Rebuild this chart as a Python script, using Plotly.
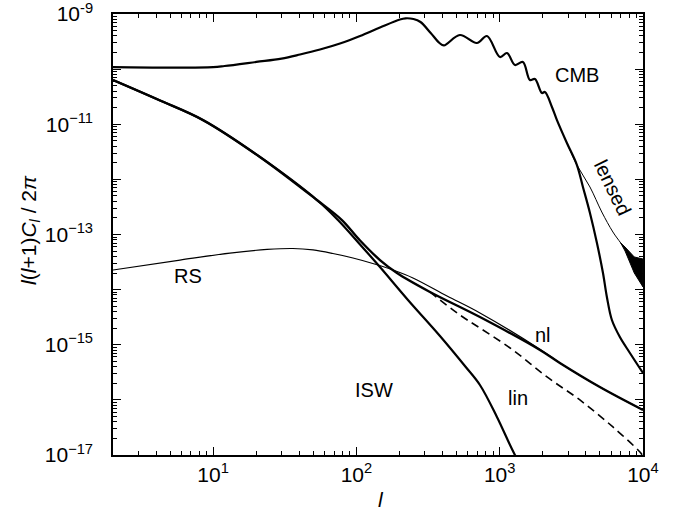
import plotly.graph_objects as go

# ---------------- data ----------------
# unlensed CMB
l_cmb = [2, 5, 10, 12, 20, 30, 40.4, 55.7, 76.8, 106, 146, 201, 220, 250, 280, 330, 380,
         408, 527, 693, 815, 1004, 1125, 1278, 1452, 1626, 1762, 1972, 2069, 2316,
         2510, 2946, 3460, 3810, 4266, 4773, 5260, 5600, 6070, 6900, 8110, 10000]
cl_cmb = [1.09e-10, 1.07e-10, 1.09e-10, 1.14e-10, 1.35e-10, 1.55e-10, 1.84e-10, 2.27e-10,
          2.92e-10, 3.99e-10, 5.69e-10, 7.95e-10, 8.36e-10, 8.11e-10, 7.16e-10, 4.52e-10,
          2.98e-10, 2.69e-10, 4.16e-10, 2.98e-10, 3.99e-10, 1.66e-10, 1.96e-10, 1.19e-10,
          1.35e-10, 6.35e-11, 6.62e-11, 3.69e-11, 3.85e-11, 2.06e-11, 1.19e-11, 4.57e-12,
          1.82e-12, 7.28e-13, 2.46e-13, 7.01e-14, 2.0e-14, 7.35e-15, 2.81e-15, 1.38e-15,
          7.08e-16, 3.07e-16]

# lensed CMB: smooth part and the dense oscillating band at the high-l end
l_lensed = [2946, 3460, 4266, 5160, 6170, 7000, 7500]
cl_lensed = [4.57e-12, 1.82e-12, 7.28e-13, 2.56e-13, 1.11e-13, 7.01e-14, 5.46e-14]
l_lensed_band = [7000, 7500, 8700, 10000, 10000, 8700, 7500, 7000]
cl_lensed_band = [7.01e-14, 5.93e-14, 3.91e-14, 3.60e-14, 1.12e-14, 2.0e-14, 5.02e-14,
                  7.01e-14]

# ISW
l_isw = [2, 4.26, 8.5, 21.2, 53, 74.3, 106, 146, 229, 383, 572, 728, 957, 1278, 1400]
cl_isw = [6.35e-11, 2.70e-11, 1.19e-11, 2.55e-12, 4.23e-13, 1.83e-13, 6.59e-14, 2.57e-14,
          6.49e-15, 1.44e-15, 4.11e-16, 1.86e-16, 4.89e-17, 1.0e-17, 7.0e-18]

# total (thick, "nl")
l_tot = [2, 4.26, 8.5, 21.2, 53, 79.2, 106, 146, 192, 326, 728, 1910, 2630, 5000, 10000]
cl_tot = [6.35e-11, 2.70e-11, 1.19e-11, 2.55e-12, 4.23e-13, 1.83e-13, 7.78e-14, 3.44e-14,
          2.0e-14, 9.06e-15, 3.18e-15, 8.04e-16, 4.67e-16, 1.71e-16, 6.55e-17]

# Rees-Sciama (thin)
l_rs = [2, 5.87, 13.1, 23.8, 36, 49.8, 68.5, 94.6, 130, 180, 248, 429, 728, 1910, 2630,
        5000, 10000]
cl_rs = [2.27e-14, 3.44e-14, 4.61e-14, 5.35e-14, 5.57e-14, 5.24e-14, 4.52e-14, 3.75e-14,
         2.98e-14, 2.27e-14, 1.63e-14, 7.66e-15, 3.77e-15, 8.3e-16, 4.67e-16, 1.71e-16,
         6.55e-17]

# linear (dashed)
l_lin = [326, 527, 728, 1236, 2140, 3630, 6170, 9530, 10000]
cl_lin = [9.06e-15, 3.47e-15, 2.01e-15, 8.04e-16, 2.60e-16, 9.95e-17, 3.22e-17, 1.13e-17,
          9.5e-18]

# tick labels
x_tick_vals = [10, 100, 1000, 10000]
x_tick_text = ["10<sup>1</sup>", "10<sup>2</sup>", "10<sup>3</sup>", "10<sup>4</sup>"]
y_exponents = list(range(-17, -8))

# ---------------- figure ----------------
FONT = "Liberation Sans, Arial, Helvetica, sans-serif"
fig = go.Figure()

def add(x, y, width, dash="solid", shape="spline", fill=None):
    fig.add_trace(go.Scatter(x=x, y=y, mode="lines",
                             line=dict(color="black", width=width, dash=dash,
                                       shape=shape, smoothing=1.0),
                             fill=fill, fillcolor="black",
                             showlegend=False, hoverinfo="skip"))

add(l_rs, cl_rs, 1.2)
add(l_lin, cl_lin, 1.6, dash="8px,5px")
add(l_tot, cl_tot, 2.4)
add(l_isw, cl_isw, 2.2)
add(l_lensed, cl_lensed, 1.0)
add(l_lensed_band, cl_lensed_band, 1.0, shape="linear", fill="toself")
add(l_cmb, cl_cmb, 2.2)

y_vals = [10.0 ** e for e in y_exponents]
y_text = []
for e in y_exponents:
    if e % 2 != 0:
        y_text.append("10<sup>%s</sup>" % ("-9" if e == -9 else "\u2212%d" % (-e)))
    else:
        y_text.append("")

x_minor = [m * 10 ** d for d in range(0, 4) for m in range(2, 10)
           if 2 <= m * 10 ** d <= 10000 and m * 10 ** d not in x_tick_vals]
y_minor = [m * 10.0 ** e for e in range(-17, -9) for m in range(2, 10)]

axis_common = dict(showline=True, linecolor="black", linewidth=1.5, mirror="allticks",
                   ticks="inside", tickcolor="black", tickwidth=1, showgrid=False,
                   zeroline=False, ticklabeloverflow="allow",
                   tickfont=dict(family=FONT, size=21, color="black"))

fig.update_xaxes(type="log", range=[0.30103, 4.0003], tickmode="array",
                 tickvals=x_tick_vals, ticktext=x_tick_text, ticklen=8,
                 minor=dict(tickmode="array", tickvals=x_minor, ticks="inside",
                            ticklen=4, tickcolor="black", showgrid=False),
                 **axis_common)
fig.update_yaxes(type="log", range=[-17.0005, -8.9995], tickmode="array",
                 tickvals=y_vals, ticktext=y_text, ticklen=8,
                 ticklabelstandoff=14,
                 minor=dict(tickmode="array", tickvals=y_minor, ticks="inside",
                            ticklen=4, tickcolor="black", showgrid=False),
                 **axis_common)

lab = dict(showarrow=False, font=dict(family=FONT, size=20, color="black"),
           xref="x", yref="y", xanchor="center", yanchor="middle")
fig.add_annotation(text="CMB", x=3.539, y=-10.107, **lab)
fig.add_annotation(text="lensed", x=3.79, y=-12.157, textangle=64, **lab)
fig.add_annotation(text="RS", x=0.824, y=-13.753, **lab)
fig.add_annotation(text="nl", x=3.302, y=-14.823, **lab)
fig.add_annotation(text="lin", x=3.127, y=-15.966, **lab)
fig.add_annotation(text="ISW", x=2.122, y=-15.821, **lab)

fig.add_annotation(text="<i>l</i>(<i>l</i>+1)<i>C<sub>l</sub></i> / 2<i>\u03c0</i>",
                   xref="paper", yref="paper", x=-0.157, y=0.51, textangle=-90,
                   xanchor="center", yanchor="middle",
                   showarrow=False, font=dict(family=FONT, size=21, color="black"))
fig.add_annotation(text="<i>l</i>", xref="paper", yref="paper", x=0.506, y=-0.102,
                   xanchor="center", yanchor="middle",
                   showarrow=False, font=dict(family=FONT, size=21, color="black"))

fig.update_layout(width=681, height=512,
                  margin=dict(l=113, r=38, t=14, b=57, autoexpand=False),
                  paper_bgcolor="white", plot_bgcolor="white")

fig.write_html("out.html")
